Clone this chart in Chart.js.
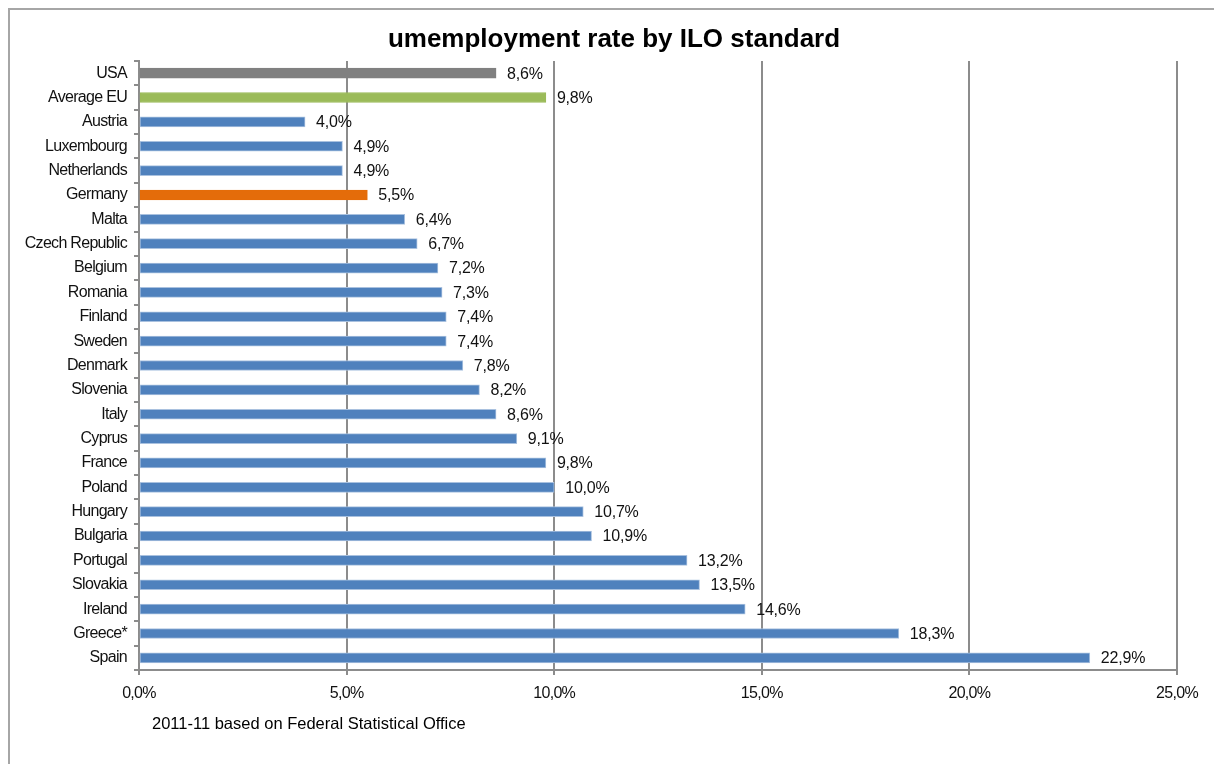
<!DOCTYPE html>
<html>
<head>
<meta charset="utf-8">
<script src="https://cdn.jsdelivr.net/npm/chart.js@4"></script>
<style>
  html, body { margin: 0; padding: 0; background: #fff; }
  #wrap { width: 1214px; height: 764px; }
</style>
</head>
<body>
<div id="wrap"><canvas id="chart" width="1214" height="764"></canvas></div>
<script>
const countries = ["USA", "Average EU", "Austria", "Luxembourg", "Netherlands", "Germany", "Malta",
  "Czech Republic", "Belgium", "Romania", "Finland", "Sweden", "Denmark", "Slovenia", "Italy",
  "Cyprus", "France", "Poland", "Hungary", "Bulgaria", "Portugal", "Slovakia", "Ireland", "Greece*", "Spain"];
const rates = [8.6, 9.8, 4.0, 4.9, 4.9, 5.5, 6.4, 6.7, 7.2, 7.3, 7.4, 7.4, 7.8, 8.2, 8.6,
  9.1, 9.8, 10.0, 10.7, 10.9, 13.2, 13.5, 14.6, 18.3, 22.9];
const xTicks = [0, 5, 10, 15, 20, 25];
const titleText = "umemployment rate by ILO standard";
const noteText = "2011-11 based on Federal Statistical Office";

const FONT = "'Liberation Sans', Arial, sans-serif";

// special bars get their own colour, everything else is blue
function barColor(name) {
  if (name === "USA") return "#808080";
  if (name === "Average EU") return "#9bbb59";
  if (name === "Germany") return "#e46c0a";
  return "#4f81bd";
}
function borderCol(name) {
  const c = barColor(name);
  return c === "#4f81bd" ? "#a9c1df" : c;
}
const fmt = v => v.toFixed(1).replace(".", ",") + "%";

const extras = {
  id: "extras",
  beforeDraw(chart) {
    const ctx = chart.ctx;
    ctx.letterSpacing = "-0.7px";
    ctx.save();
    // outer frame (cut off right and bottom)
    ctx.strokeStyle = "#a6a6a6";
    ctx.lineWidth = 2;
    ctx.beginPath();
    ctx.moveTo(9, 800);
    ctx.lineTo(9, 9);
    ctx.lineTo(1300, 9);
    ctx.stroke();
    // title
    ctx.fillStyle = "#000";
    ctx.font = "bold 26px " + FONT;
    ctx.letterSpacing = "0px";
    ctx.textAlign = "center";
    ctx.textBaseline = "alphabetic";
    ctx.fillText(titleText, 614, 47);
    // footnote
    ctx.font = "16.5px " + FONT;
    ctx.textAlign = "left";
    ctx.fillText(noteText, 152, 729);
    ctx.restore();
  },
  afterDatasetsDraw(chart) {
    const ctx = chart.ctx;
    const meta = chart.getDatasetMeta(0);
    ctx.save();
    ctx.font = "16px " + FONT;
    ctx.letterSpacing = "-0.2px";
    ctx.fillStyle = "#111";
    ctx.textAlign = "left";
    ctx.textBaseline = "middle";
    meta.data.forEach((bar, i) => {
      ctx.fillText(fmt(rates[i]), bar.x + 11, bar.y + 1);
    });
    ctx.restore();
  }
};

new Chart(document.getElementById("chart"), {
  type: "bar",
  data: {
    labels: countries,
    datasets: [{
      data: rates,
      backgroundColor: countries.map(barColor),
      borderColor: countries.map(borderCol),
      borderWidth: 1,
      borderSkipped: false,
      barThickness: 10
    }]
  },
  options: {
    indexAxis: "y",
    responsive: false,
    animation: false,
    layout: { padding: { left: 0, right: 37, top: 61, bottom: 64 } },
    plugins: { legend: { display: false }, title: { display: false }, tooltip: { enabled: false } },
    scales: {
      x: {
        min: 0, max: 25,
        afterFit(s) { s.height = 30; },
        afterBuildTicks(s) { s.ticks = xTicks.map(v => ({ value: v })); },
        ticks: {
          color: "#111",
          font: { family: FONT, size: 16 },
          padding: 9,
          callback: v => fmt(v)
        },
        grid: { color: "#8c8c8c", lineWidth: 2, tickLength: 5, tickColor: "#8c8c8c" },
        border: { color: "#8c8c8c", width: 2 }
      },
      y: {
        afterFit(s) { s.width = 139; },
        ticks: {
          color: "#111",
          font: { family: FONT, size: 16 },
          padding: 7,
          autoSkip: false
        },
        grid: { drawOnChartArea: false, tickLength: 5, color: "#8c8c8c", lineWidth: 2, offset: true },
        border: { color: "#8c8c8c", width: 2 }
      }
    }
  },
  plugins: [extras]
});
</script>
</body>
</html>
